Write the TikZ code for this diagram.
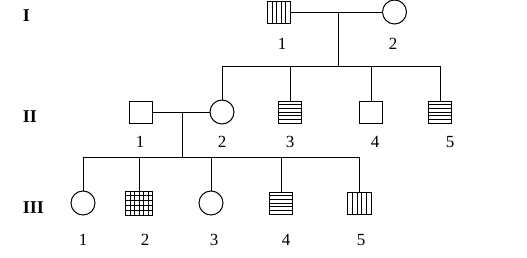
\documentclass[tikz,border=0pt]{standalone}
\usepackage{fontspec}
\setmainfont{Liberation Serif}
\usepackage{tikz}

\tikzset{
  male/.style={draw, rectangle, minimum width=23pt, minimum height=22pt, inner sep=0pt},
  female/.style={draw, circle, minimum size=24pt, inner sep=0pt},
  vlines/.style={path picture={
      \foreach \k in {1,...,4}
        \draw ($(path picture bounding box.south west)!\k/5!(path picture bounding box.south east)$) -- ++(0,-30);}},
  hlines/.style={path picture={
      \foreach \k in {1,...,5}
        \draw ($(path picture bounding box.north west)!\k/6!(path picture bounding box.south west)$) -- ++(30,0);}},
  gridded/.style={path picture={
      \foreach \k in {1,...,5}
        \draw ($(path picture bounding box.south west)!\k/6!(path picture bounding box.south east)$) -- ++(0,-30);
      \foreach \k in {1,...,4}
        \draw ($(path picture bounding box.north west)!\k/5!(path picture bounding box.south west)$) -- ++(30,0);}},
  num/.style={font=\fontsize{17}{19}\selectfont},
  gen/.style={font=\fontsize{18}{20}\selectfont\bfseries, anchor=west}
}
\usetikzlibrary{calc}

\begin{document}
\begin{tikzpicture}[x=1pt, y=-1pt, line width=1pt]
  \useasboundingbox (0,0) rectangle (527,257);
  % generation labels
  \node[gen] (gI) at (19,16) {I};
  \node[gen] (gII) at (19,117) {II};
  \node[gen] (gIII) at (19,208) {III};
  % generation I
  \node[male, vlines] (i1) at (279,12) {};
  \node[female] (i2) at (394.5,12) {};
  \draw (i1) -- (i2);
  \coordinate (m1) at (338,12);
  \coordinate (sib1) at (338,66);
  \draw (m1) -- (sib1);
  % generation II
  \node[male] (ii1) at (141,112) {};
  \node[female] (ii2) at (222,112) {};
  \node[male, hlines] (ii3) at (290,112) {};
  \node[male] (ii4) at (371,112) {};
  \node[male, hlines] (ii5) at (440,112) {};
  \foreach \n in {2,...,5} { \draw (ii\n.north) |- (sib1); }
  \draw (ii1) -- (ii2);
  \coordinate (m2) at (182,112);
  \coordinate (sib2) at (182,157);
  \draw (m2) -- (sib2);
  % generation III
  \node[female] (iii1) at (83,203) {};
  \node[male, gridded, minimum width=27pt, minimum height=24pt] (iii2) at (139,203) {};
  \node[female] (iii3) at (211,203) {};
  \node[male, hlines] (iii4) at (281,203) {};
  \node[male, vlines, minimum width=24pt] (iii5) at (359.5,203) {};
  \foreach \n in {1,...,5} { \draw (iii\n.north) |- (sib2); }
  % numbers
  \node[num] (l11) at (282,44) {1};
  \node[num] (l12) at (393,44) {2};
  \node[num] (l21) at (140,142) {1};
  \node[num] (l22) at (222,142) {2};
  \node[num] (l23) at (290,142) {3};
  \node[num] (l24) at (375,142) {4};
  \node[num] (l25) at (450,142) {5};
  \node[num] (l31) at (83,240) {1};
  \node[num] (l32) at (145,240) {2};
  \node[num] (l33) at (214,240) {3};
  \node[num] (l34) at (286,240) {4};
  \node[num] (l35) at (361,240) {5};
\end{tikzpicture}
\end{document}
